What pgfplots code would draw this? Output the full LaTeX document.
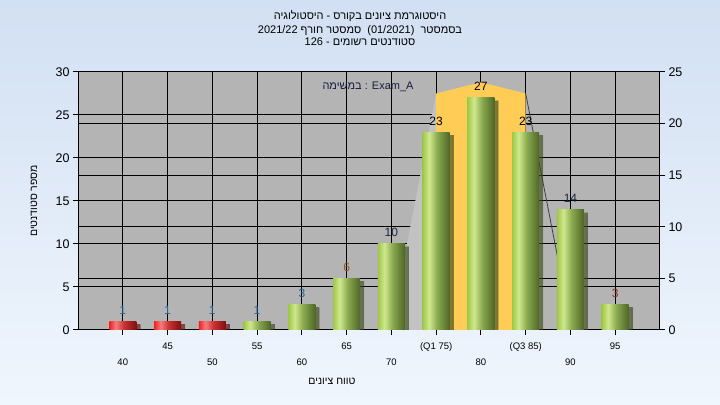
\documentclass[border=0pt]{standalone}
\usepackage{pgfplots}
\pgfplotsset{compat=1.18}
\usepackage{fontspec}
\setmainfont{Liberation Sans}
\newfontfamily\hebfont[Script=Hebrew]{Liberation Sans}
\TeXXeTstate=1
\usetikzlibrary{shadows}

\definecolor{bgtop}{RGB}{210,224,243}
\definecolor{bgbot}{RGB}{240,246,253}
\definecolor{plotbg}{RGB}{180,180,180}
\definecolor{yel}{RGB}{255,204,85}
\definecolor{lgray}{RGB}{194,194,194}
\definecolor{gA}{RGB}{158,200,72}
\definecolor{gB}{RGB}{208,232,142}
\definecolor{gC}{RGB}{138,170,80}
\definecolor{gD}{RGB}{78,102,38}
\definecolor{rA}{RGB}{245,30,30}
\definecolor{rB}{RGB}{245,125,125}
\definecolor{rC}{RGB}{200,50,50}
\definecolor{rD}{RGB}{128,15,15}
\definecolor{lblblue}{RGB}{40,100,150}
\definecolor{lbldark}{RGB}{30,40,70}
\definecolor{lblbrown}{RGB}{140,90,30}
\definecolor{lblred}{RGB}{140,50,30}
\pgfdeclarehorizontalshading{greenbar}{100bp}{color(0bp)=(gA); color(25bp)=(gA); color(37bp)=(gB); color(52bp)=(gC); color(75bp)=(gD); color(100bp)=(gD)}
\pgfdeclarehorizontalshading{redbar}{100bp}{color(0bp)=(rA); color(25bp)=(rA); color(37bp)=(rB); color(52bp)=(rC); color(75bp)=(rD); color(100bp)=(rD)}

\pgfplotsset{
  /pgf/number format/assume math mode=true,
  gbar/.style={ybar, bar width=27bp, bar shift=0pt, draw=none, shading=greenbar,
    drop shadow={shadow xshift=4bp, shadow yshift=-3bp, opacity=0.4, fill=black}},
  rbar/.style={ybar, bar width=27bp, bar shift=0pt, draw=none, shading=redbar,
    drop shadow={shadow xshift=4bp, shadow yshift=-3bp, opacity=0.4, fill=black}},
  lbl/.style={draw=none, mark=none, nodes near coords,
    every node near coord/.append style={font=\fontsize{12bp}{14bp}\selectfont, text=#1, anchor=south, yshift=3.5bp}},
  common/.style={at={(78bp,75bp)}, anchor=south west, scale only axis,
    width=582bp, height=258bp, xmin=35, xmax=100, ymin=0,
    grid style={black, line width=1bp},
    axis line style={black, line width=1bp},
    tick style={black, line width=1bp},
    tick align=outside, major tick length=5bp,
    yticklabel style={font=\fontsize{12.5bp}{14bp}\selectfont, text=black}},
}

\begin{document}
\begin{tikzpicture}
\shade[top color=bgtop, bottom color=bgbot] (0,0) rectangle (720bp,405bp);
\useasboundingbox (0,0) rectangle (720bp,405bp);

% right axis (drawn first, holds background and its grid)
\begin{axis}[common, ymax=25,
  axis x line=none, axis y line*=right,
  ytick={0,5,...,25}, ymajorgrids,
  axis background/.style={fill=plotbg}]
\addplot[draw=none, mark=none] coordinates {(35,0)};
\end{axis}

% left axis with data
\begin{axis}[common, ymax=30,
  xtick={40,45,...,95},
  xticklabels={{\mbox{}\\[12bp]40},45,{\mbox{}\\[12bp]50},55,{\mbox{}\\[12bp]60},65,{\mbox{}\\[12bp]70},{(Q1 75)},{\mbox{}\\[12bp]80},{(Q3 85)},{\mbox{}\\[12bp]90},95},
  xticklabel style={font=\fontsize{9.5bp}{11bp}\selectfont, align=center, text=black, yshift=-4bp},
  ytick={0,5,...,30},
  xtick pos=bottom, ytick pos=left,
  xmajorgrids, ymajorgrids,
  xlabel={\hebfont\beginR טווח ציונים\endR},
  xlabel style={at={(axis description cs:0.4364,-0.1977)}, anchor=center, font=\fontsize{10.5bp}{12bp}\selectfont},
  ylabel={\hebfont\beginR מספר סטודנטים\endR},
  ylabel style={at={(axis description cs:-0.0756,0.5)}, anchor=center, rotate=0, font=\fontsize{10.5bp}{12bp}\selectfont},
]
% distribution area
\addplot[fill=lgray, draw=none] coordinates {(70,0.7) (75,27.5)} \closedcycle;
\addplot[fill=yel, draw=none] coordinates {(75,27.5) (80,28.8) (85,27.5)} \closedcycle;
\addplot[draw=black!75, line width=0.8bp] coordinates {(85,27.5) (90,0.8)};

% bars
\addplot[rbar] coordinates {(40,1)};
\addplot[rbar] coordinates {(45,1)};
\addplot[rbar] coordinates {(50,1)};
\addplot[gbar] coordinates {(55,1)};
\addplot[gbar] coordinates {(60,3)};
\addplot[gbar] coordinates {(65,6)};
\addplot[gbar] coordinates {(70,10)};
\addplot[gbar] coordinates {(75,23)};
\addplot[gbar] coordinates {(80,27)};
\addplot[gbar] coordinates {(85,23)};
\addplot[gbar] coordinates {(90,14)};
\addplot[gbar] coordinates {(95,3)};

% value labels
\addplot[lbl=lblblue] coordinates {(40,1) (45,1) (50,1) (55,1) (60,3)};
\addplot[lbl=lblbrown] coordinates {(65,6)};
\addplot[lbl=lbldark] coordinates {(70,10) (90,14)};
\addplot[lbl=black] coordinates {(75,23) (80,27) (85,23)};
\addplot[lbl=lblred] coordinates {(95,3)};
\end{axis}

\node[font=\fontsize{11bp}{13bp}\selectfont, text={rgb,255:red,25;green,25;blue,60}] at (368bp,318bp) {{\hebfont\beginR במשימה\endR} : Exam\_A};

\node[anchor=base, font=\fontsize{11bp}{13bp}\selectfont] at (360bp,385bp) {\hebfont\beginR היסטוגרמת ציונים בקורס - היסטולוגיה\endR};
\node[anchor=base, font=\fontsize{11bp}{13bp}\selectfont] at (360bp,371bp) {\hebfont\beginR בסמסטר\ \ \beginL (01/2021)\endL{}\ \ סמסטר חורף \beginL 2021/22\endL{}\endR};
\node[anchor=base, font=\fontsize{11bp}{13bp}\selectfont] at (360bp,359bp) {\hebfont\beginR סטודנטים רשומים - \beginL 126\endL{}\endR};
\end{tikzpicture}
\end{document}
